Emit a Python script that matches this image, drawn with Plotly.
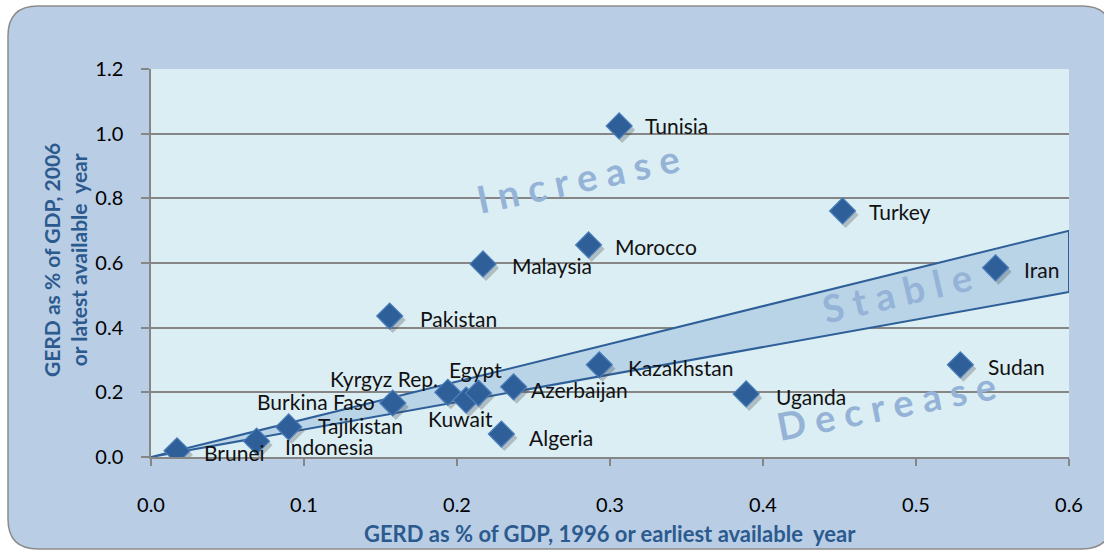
import plotly.graph_objects as go

countries = ["Brunei", "Indonesia", "Tajikistan", "Burkina Faso", "Kyrgyz Rep.", "Kuwait",
             "Egypt", "Azerbaijan", "Algeria", "Kazakhstan", "Uganda", "Sudan", "Iran",
             "Turkey", "Morocco", "Malaysia", "Pakistan", "Tunisia"]
gerd_1996 = [0.017, 0.069, 0.090, 0.158, 0.194, 0.206, 0.214, 0.237, 0.229, 0.293, 0.389,
             0.529, 0.552, 0.452, 0.286, 0.217, 0.156, 0.306]
gerd_2006 = [0.019, 0.049, 0.093, 0.167, 0.200, 0.176, 0.198, 0.217, 0.071, 0.285, 0.195,
             0.285, 0.585, 0.761, 0.656, 0.597, 0.436, 1.024]
band_x = [0.0, 0.6, 0.6, 0.0]
band_y = [0.0, 0.70, 0.51, 0.0]
x_ticks = [0.0, 0.1, 0.2, 0.3, 0.4, 0.5, 0.6]
y_ticks = [0.0, 0.2, 0.4, 0.6, 0.8, 1.0, 1.2]

# label placement (pixel shifts, anchor)
label_pos = {
    "Tunisia": (24, 0, "left"), "Turkey": (24, -1, "left"), "Morocco": (24, -2, "left"),
    "Malaysia": (27, -2, "left"), "Pakistan": (28, -2, "left"), "Iran": (26, -2, "left"),
    "Kazakhstan": (27, -3, "left"), "Sudan": (26, -2, "left"), "Uganda": (28, -3, "left"),
    "Azerbaijan": (15, -3, "left"), "Algeria": (26, -3, "left"), "Egypt": (-3, 23, "center"),
    "Kyrgyz Rep.": (-8, 14, "right"), "Burkina Faso": (-16, 2, "right"),
    "Kuwait": (-6, -18, "center"), "Tajikistan": (27, 1, "left"),
    "Indonesia": (26, -5, "left"), "Brunei": (25, -2, "left"),
}

W, H = 1104, 550
L, R, T, B = 151, 35, 69, 93
pw, ph = W - L - R, H - T - B

def px(x):
    return (x - L) / pw

def py(y):
    return (H - B - y) / ph

FONT = "Lato"
TITLE_COLOR = "#2B5A8E"

fig = go.Figure()

# stable band
fig.add_trace(go.Scatter(x=band_x, y=band_y, mode="lines", fill="toself",
                         fillcolor="#B9D3E7", line=dict(color="#2F5F98", width=2),
                         hoverinfo="skip", showlegend=False))
# shadows
fig.add_trace(go.Scatter(x=[v + 3 / 1530 for v in gerd_1996], y=[v - 4 / 323 for v in gerd_2006],
                         mode="markers", marker=dict(symbol="diamond", size=20, color="rgba(60,60,60,0.28)"),
                         hoverinfo="skip", showlegend=False))
# points
fig.add_trace(go.Scatter(x=gerd_1996, y=gerd_2006, mode="markers", text=countries,
                         marker=dict(symbol="diamond", size=20, color="#2F5F98",
                                     line=dict(color="#4A7EBB", width=1.2)),
                         showlegend=False))

annotations = []
for c, xv, yv in zip(countries, gerd_1996, gerd_2006):
    dx, dy, anc = label_pos[c]
    annotations.append(dict(x=xv, y=yv, xref="x", yref="y", text=c, showarrow=False,
                            xanchor=anc, yanchor="middle", xshift=dx, yshift=dy,
                            font=dict(family=FONT, size=21, color="#111111")))

wm = dict(family=FONT, size=38, color="#95B3D7", weight="bold")
annotations += [
    dict(x=px(578), y=py(178), xref="paper", yref="paper", text="I n c r e a s e", showarrow=False,
         textangle=-12, font=wm, xanchor="center", yanchor="middle"),
    dict(x=px(897), y=py(292), xref="paper", yref="paper", text="S t a b l e", showarrow=False,
         textangle=-13, font=wm, xanchor="center", yanchor="middle"),
    dict(x=px(886), y=py(405), xref="paper", yref="paper", text="D e c r e a s e", showarrow=False,
         textangle=-11, font=wm, xanchor="center", yanchor="middle"),
    dict(x=px(65), y=py(260), xref="paper", yref="paper",
         text="GERD as % of GDP, 2006<br>or latest available  year", showarrow=False,
         textangle=-90, xanchor="center", yanchor="middle",
         font=dict(family=FONT, size=21, color=TITLE_COLOR, weight="bold")),
    dict(x=px(610), y=py(533), xref="paper", yref="paper",
         text="GERD as % of GDP, 1996 or earliest available  year", showarrow=False,
         xanchor="center", yanchor="middle",
         font=dict(family=FONT, size=22, color=TITLE_COLOR, weight="bold")),
]

r = 30
x0, x1, y0, y1 = 8, 1112, 6, 549
path = (f"M {px(x0 + r)},{py(y0)} L {px(x1 - r)},{py(y0)} Q {px(x1)},{py(y0)} {px(x1)},{py(y0 + r)} "
        f"L {px(x1)},{py(y1 - r)} Q {px(x1)},{py(y1)} {px(x1 - r)},{py(y1)} "
        f"L {px(x0 + r)},{py(y1)} Q {px(x0)},{py(y1)} {px(x0)},{py(y1 - r)} "
        f"L {px(x0)},{py(y0 + r)} Q {px(x0)},{py(y0)} {px(x0 + r)},{py(y0)} Z")
shapes = [
    dict(type="path", path=path, xref="paper", yref="paper", layer="below",
         fillcolor="#B9CDE5", line=dict(color="#8C8C8C", width=1.5)),
    dict(type="rect", x0=0, x1=1, y0=0, y1=1, xref="paper", yref="paper", layer="below",
         fillcolor="#DBEEF4", line=dict(width=0)),
]

fig.update_layout(
    width=W, height=H, margin=dict(l=L, r=R, t=T, b=B),
    paper_bgcolor="white", plot_bgcolor="rgba(0,0,0,0)",
    annotations=annotations, shapes=shapes, showlegend=False,
    font=dict(family=FONT, size=20, color="black"),
    xaxis=dict(range=[0, 0.6], tickvals=x_ticks, tickformat=".1f", showgrid=False,
               zeroline=False, showline=True, linecolor="#868686", linewidth=1.5,
               ticks="outside", ticklen=7, tickcolor="#868686", tickwidth=1.5,
               ticklabelstandoff=22, tickfont=dict(family=FONT, size=20, color="black")),
    yaxis=dict(range=[0, 1.2], tickvals=y_ticks, tickformat=".1f", showgrid=True,
               gridcolor="#868686", gridwidth=1.5, zeroline=False, showline=True,
               linecolor="#868686", linewidth=1.5, ticks="outside", ticklen=8,
               tickcolor="#868686", tickwidth=1.5, ticklabelstandoff=14,
               tickfont=dict(family=FONT, size=20, color="black")),
)

fig.write_html("out.html", config={"displayModeBar": False},
               post_script="document.body.style.margin='0';document.body.style.overflow='hidden';")
